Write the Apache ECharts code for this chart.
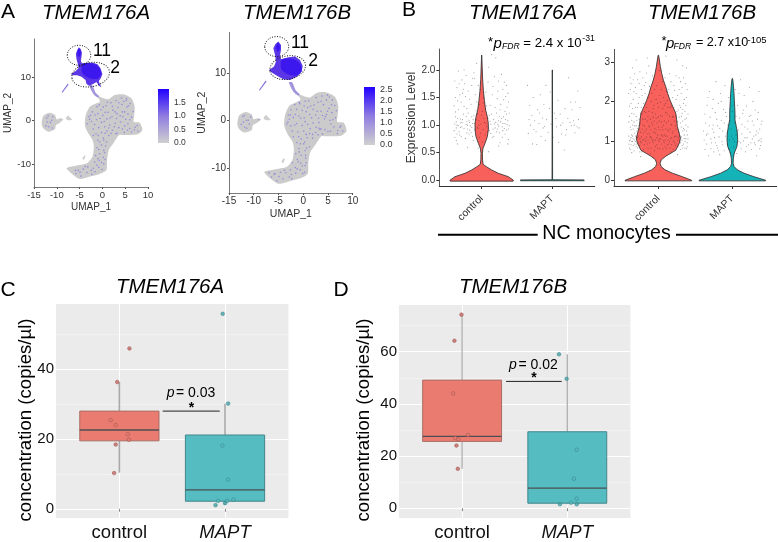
<!DOCTYPE html>
<html><head><meta charset="utf-8">
<style>html,body{margin:0;padding:0;background:#fff}#c{width:778px;height:542px}</style>
<script src="https://cdn.jsdelivr.net/npm/echarts@6/dist/echarts.min.js"></script>
</head><body><div id="c"></div>
<script>
const categories=['control','MAPT'];
// UMAP outlines, in UMAP units
const umapBody=[[-2.39,7.4],[-1.15,5.88],[-.57,5.5],[1.25,4.89],[2.71,5.88],[4.53,6.03],[6.36,5.11],[7.08,3.2],[6.94,.92],[6.87,-.23],[8.18,-.46],[8.76,-2.14],[7.81,-3.13],[6.36,-3.28],[4.53,-3.28],[3.66,-3.28],[2.49,-5.04],[1.4,-6.72],[1.03,-9],[.89,-11.3],[-.57,-12.2],[-2.76,-12.8],[-4.94,-13.36],[-6.4,-12.44],[-7.86,-10.9],[-6.76,-10.5],[-4.94,-10.15],[-3.34,-9.77],[-2.17,-8.24],[-1.88,-5.95],[-2.17,-4.43],[-3.12,-2.9],[-3.85,-1],[-3.63,1.3],[-2.76,3.2],[-1.3,3.97],[-.57,4.35],[-.72,4.9],[-1.66,6.03],[-2.6,7.18]];
const umapIsland=[[-13.32,-.76],[-12.96,1.07],[-11.65,1.83],[-10.4,1.3],[-10.04,.3],[-9.31,.53],[-8.59,.3],[-9.31,-.46],[-10.19,-1],[-10.4,-1.98],[-11.87,-2.52],[-12.96,-1.76]];
const umapBlob=[[-8,.5],[-7.5,1.2],[-7,.6],[-6.6,.2],[-7.5,.1]];
const umapSliver=[[-4.4,-8.6],[-3.9,-7.9],[-3.7,-8.2],[-4.1,-9.1]];
const umapClusterA=[[-5.16,16.79],[-4.72,16.34],[-4.5,15.57],[-4.58,14.66],[-4.72,13.74],[-4.5,13.13],[-3.34,13.28],[-2.03,13.28],[-1.08,12.9],[-.42,11.98],[0,10.69],[-.35,9.69],[-.79,9.08],[-.57,8.4],[-.2,7.63],[-.71,7.94],[-1.3,8.85],[-2.03,8.4],[-2.9,8.02],[-3.48,8.4],[-3.7,9.31],[-4.58,10.08],[-5.52,10.38],[-6.4,10.38],[-6.98,10.69],[-6.03,11.22],[-5.23,11.98],[-5.38,12.98],[-5.67,14.05],[-5.82,15.27],[-5.52,16.18]];
const umapClusterB=[[-5.03,16.74],[-4.49,16.03],[-4.49,14.97],[-4.69,13.91],[-4.49,12.99],[-3,13.42],[-1.66,13.56],[-.65,12.85],[-.11,11.58],[-.31,10.38],[-1.32,9.32],[-2.67,8.62],[-4.02,8.76],[-5.23,9.46],[-6.37,10.17],[-6.91,10.73],[-5.9,11.44],[-5.5,12.5],[-5.7,13.91],[-6.04,15.32],[-5.6,16.2]];
const umapCore=[[-5.1,16.5],[-4.7,15.5],[-5.1,14.6],[-5.5,15.5]];
const umapCore2=[[-4.3,12.9],[-1.9,13],[-.7,12.1],[-.3,10.6],[-1.1,9.6],[-2.8,9.7],[-4.4,10.9]];
const umapStreak=[[-8.95,6.5],[-7.6,8.5],[-7.4,8.3],[-8.75,6.4]];
const umapStem=[[-2.9,8.1],[-2.2,8.1],[-1.5,6.4],[-.7,5.6],[-1,5.3],[-1.9,6]];
const ellipsesA=[[-5.13,14.97,2.57,2.29,0],[-2.57,10.53,4.17,2.75,.2]];
const ellipsesB=[[-5.36,15.68,2.42,2.12,0],[-3.14,11.23,3.64,2.47,.2]];
const speckleA=[[-1.2,3.2],[-.3,2.5],[.8,3.4],[1.9,4.1],[3,4.6],[4.2,5.2],[5.2,4.6],[6.1,3.9],[5.4,3.1],[4.3,3.7],[3.4,3],[2.3,2.4],[1.2,1.9],[.1,1.2],[-1,1.6],[-2.2,2],[-3,.9],[-2.4,-.2],[-1.3,.2],[-.2,-.4],[1,.4],[2.1,.9],[3.2,1.6],[4.4,2],[5.6,1.5],[6.4,.8],[5.1,.3],[4,-.3],[2.8,-.6],[1.6,-1],[.5,-1.4],[-.8,-1.6],[-2,-1.9],[-1.4,-3],[-.2,-2.7],[1,-2.4],[2.2,-2.2],[3.6,-1.6],[4.9,-1.2],[6,-1.8],[7.2,-1.5],[7.8,-2.4],[6.4,-2.6],[4.8,-2.7],[3.2,-2.9],[1.4,-3.4],[.2,-4],[-1,-4.5],[.9,-4.9],[-.2,-5.6],[-1.2,-6.2],[.3,-6.8],[-.6,-7.6],[-1.5,-8],[.2,-8.4],[-.7,-9.1],[-1.7,-9.5],[.3,-9.9],[-.8,-10.7],[-2,-10.9],[-3.2,-10.6],[-4.2,-11.1],[-5.3,-11.4],[-3.4,-11.9],[-5.8,-12.1],[-4.7,-12.7],[-1.6,-11.7],[-12.2,.6],[-11.4,-.4],[-12.4,-1.2],[-10.9,.9],[-11,-1.7]];
const speckleB=[[-1.7,3.4],[-.8,3.9],[.4,4.1],[1.5,3.1],[2.6,4.9],[3.8,5.2],[4.9,5.4],[5.9,4.4],[6.4,3.2],[5.2,2.6],[4.1,3.4],[3,3.9],[2,2.4],[.9,2.8],[-.2,2.2],[-1.3,2.4],[-2.5,2.3],[-3,1.2],[-2,.7],[-.9,1],[.2,.6],[1.3,1.3],[2.5,1.2],[3.6,2],[4.7,1.3],[5.8,1.7],[6.5,.6],[5.4,.1],[4.3,.4],[3.2,-.4],[3.6,-1.7],[3.4,-1.9],[3.2,-1.6],[2,-.5],[.9,-.8],[-.2,-1],[-1.3,-.6],[-2.5,-1.1],[-3.1,-.3],[-2.2,-2.2],[-1.1,-2.4],[.1,-2.2],[1.3,-2.7],[2.5,-2.5],[3.9,-2.8],[5,-2.3],[6.2,-1.3],[7.4,-1.4],[8,-2.2],[6.9,-2.7],[1.9,-3.7],[.8,-3.6],[-.4,-3.9],[-1.3,-4.6],[.1,-4.9],[1.3,-5.5],[-.9,-5.9],[.4,-6.3],[-1.5,-7],[-.4,-7.3],[.5,-7.9],[-1.2,-8.2],[-2.2,-8.9],[-.5,-9],[.4,-9.5],[-1.6,-9.9],[-.6,-10.4],[.3,-10.9],[-1.5,-11.1],[-2.6,-10.4],[-3.5,-11],[-2.8,-11.9],[-4.6,-10.9],[-5.7,-11.2],[-4.1,-12.3],[-5.3,-12.7],[-6.4,-11.9],[-6.9,-11],[-12.2,.9],[-11.5,.1],[-12.5,-.8],[-10.9,-.7],[-11.4,-1.6],[-10.6,.8],[-8.9,.2]];
const speckleShared=[[-.7,3.6],[.2,3.1],[1.1,4.2],[2.2,3.3],[3.6,4.1],[4.7,4.4],[5.7,3.4],[4.9,2],[3.9,1.1],[2.8,2],[1.7,.6],[.6,1.9],[-.5,.5],[-1.7,-.9],[-2.8,.3],[-1.6,1.3],[.4,-.2],[1.4,-1.7],[2.6,-1.4],[3.1,.5],[4.5,.9],[6,.2],[5.6,-.7],[4.4,-1.9],[3,-3],[1.9,-2.9],[.6,-2.9],[-.9,-3.4],[.3,-4.5],[-.6,-4.9],[.7,-5.8],[-.8,-6.6],[.5,-7.3],[-1,-8.7],[.6,-8.9],[-.2,-9.6],[-1.2,-10.2],[-.1,-11.2],[-2.4,-11.4],[-3.8,-10.5],[-4.9,-11.8],[-5.9,-11.4],[-2.3,-12.3],[5.3,5],[6.7,2.1],[7.6,-1.1],[7,-2.1],[5.5,-2.2],[-11.9,1.1],[-12.1,-.3],[-11.1,.1],[-11.8,-1.4],[-2.6,1.2],[-3.3,-.7],[-2,-3.4]];
// Colour bars
const colorbarTopA=[2.0],colorbarTopB=[2.6];
const colorbarTicksA=[0,.5,1,1.5],colorbarTicksB=[0,.5,1,1.5,2,2.5];
// Violin profiles: [expression level, half width in category units]
const violinControlA=[[-.015,.445],[0,.45],[.066,.378],[.127,.236],[.187,.142],[.248,.066],[.29,.02],[.37,.012],[.49,.01],[.58,.019],[.67,.047],[.79,.08],[.91,.094],[1.03,.094],[1.15,.08],[1.27,.057],[1.45,.038],[1.63,.024],[1.82,.014],[2.06,.007],[2.27,.001]];
const violinMaptA=[[-.008,.45],[.008,.45],[.01,.004],[2,.002]];
const violinControlB=[[-.015,.45],[0,.45],[.09,.325],[.18,.19],[.265,.09],[.35,.036],[.43,.023],[.52,.04],[.61,.1],[.76,.235],[.95,.285],[1.07,.298],[1.2,.28],[1.36,.257],[1.53,.248],[1.7,.235],[1.87,.194],[2.03,.158],[2.2,.126],[2.37,.1],[2.54,.068],[2.71,.045],[2.88,.027],[3.05,.014],[3.17,.003]];
const violinMaptB=[[-.015,.45],[0,.45],[.09,.293],[.18,.158],[.265,.068],[.35,.023],[.43,.011],[.56,.014],[.69,.027],[.86,.063],[1.03,.072],[1.2,.068],[1.36,.054],[1.53,.036],[1.7,.036],[1.87,.032],[2.03,.027],[2.2,.023],[2.37,.016],[2.54,.007],[2.58,.002]];
// Jittered points
const dotsControlA=[[.62,1.02],[.64,.95],[.66,1.12],[.61,1.35],[.63,1.5],[.65,1.68],[.68,.88],[.7,1.04],[.72,.97],[.74,1.2],[.69,.82],[.71,1.42],[.73,1.58],[.76,1.75],[.78,1.01],[.8,.93],[.82,1.09],[.77,.76],[.79,1.3],[.81,1.62],[.84,.99],[.86,1.15],[.88,.72],[.83,1.47],[.85,.87],[.9,1.03],[.92,1.26],[.87,1.85],[.94,.96],[.91,1.55],[.96,1.08],[.98,.85],[1,1.18],[1.02,.92],[1.04,1.05],[.97,1.38],[1.01,.7],[1.05,1.28],[1.07,.98],[1.09,1.13],[1.06,1.6],[1.11,.9],[1.13,1.02],[1.15,.78],[1.12,1.36],[1.17,1.1],[1.19,.95],[1.21,1.22],[1.16,1.7],[1.23,1.01],[1.25,.86],[1.22,1.48],[1.27,1.06],[1.29,.97],[1.31,1.15],[1.26,.68],[1.33,1.03],[1.35,.91],[1.3,1.65],[1.37,1.08],[1.39,.99],[1.36,1.33],[1.38,.74],[1.34,1.52],[1.32,1.78],[1.28,1.92],[1.18,1.88],[.75,2],[.67,1.98],[.62,1.8],[.72,1.82],[1.2,2.22],[1.14,2.28],[1.1,2.05],[.93,2.12],[.89,1.95],[.64,1.06],[.67,.99],[.7,1.11],[.75,.94],[.79,1.07],[.83,.91],[.87,1.03],[.92,1.1],[.95,.94],[1.03,1.12],[1.08,.88],[1.12,1.07],[1.16,.93],[1.2,1.05],[1.24,.98],[1.28,1.12],[1.32,.94],[1.36,1.01],[.66,.66],[.8,.6],[.95,.58],[1.1,.52],[1.24,.62],[1.37,.66],[.63,1.24],[.86,1.72],[1.24,1.8],[1.33,1.25],
 [.61,.9],[.63,1.15],[.65,.84],[.67,1.28],[.69,1.55],[.71,.79],[.73,1.1],[.75,1.34],[.77,1.52],[.79,.86],[.81,1.22],[.83,1.05],[.85,1.38],[.87,.8],[.89,1.18],[.91,.92],[.93,1.42],[.95,1.72],[.97,.78],[.99,1.02],[1.01,1.25],[1.03,1.5],[1.05,.82],[1.07,1.35],[1.09,1.78],[1.11,1.18],[1.13,.85],[1.15,1.55],[1.17,.8],[1.19,1.32],[1.21,.88],[1.23,1.62],[1.25,1.16],[1.27,1.38],[1.29,.78],[1.31,1.46],[1.33,.84],[1.35,1.2],[1.37,1.58],[1.39,1.22],[.62,.78],[.66,1.44],[.7,.96],[.74,1.65],[.78,1.16],[.82,.84],[.86,.96],[.9,1.85],[.94,1.2],[.98,1.65],[1.02,1.4],[1.06,1.03],[1.1,.95],[1.14,1.2],[1.18,1.02],[1.22,.93],[1.26,1.28],[1.3,1.03],[1.34,1.1],[1.38,.93],[.65,1],[.72,1.05],[.8,1],[.88,1.1],[.96,1],[1.24,1.08],[1.3,.9],[.68,1.75],[.78,1.9],[1.35,1.72],[1.38,1.42],[.64,.72]];
const dotsMaptA=[[1.65,1.72],[1.68,1.36],[1.66,.85],[1.69,1],[1.71,1.18],[1.72,.66],[1.73,1.5],[1.75,1.08],[1.77,.88],[1.79,1.28],[1.78,.65],[1.81,1.03],[1.83,1.55],[1.84,.8],[1.86,1.13],[1.88,1.38],[1.87,.95],[1.9,.72],[1.92,1.1],[1.91,1.72],[1.94,.87],[1.96,1.3],[1.98,1.02],[2.01,.78],[2.03,1.22],[2.06,.97],[2.08,1.45],[2.09,.69],[2.11,1.2],[2.13,.84],[2.15,1.04],[2.18,1.3],[2.17,.55],[2.2,.92],[2.22,1.12],[2.23,1.86],[2.25,1.05],[2.27,.99],[2.28,1.28],[2.3,1.08],[2.32,.86],[2.33,1.42],[2.35,.97],[2.37,1.1],[2.39,1.32],[2.36,1.62],[1.67,1.1],[1.74,.92],[1.82,1.22],[1.89,.98],[1.97,1.6],[2.05,1.12],[2.12,1],[2.19,.82],[2.26,1.42],[2.31,1],[2.38,.95]];
const dotsControlB=[[.61,1],[.62,1.35],[.63,.9],[.64,1.7],[.65,1.12],[.6,2.2],[.66,2.05],[.62,2.6],[.64,.7],[.67,1.48],[.68,1.02],[.69,2.35],[.7,.85],[.71,1.25],[.72,1.85],[.73,.95],[.74,1.55],[.75,2.75],[.76,.6],[.77,1.1],[.78,2.15],[.79,1.4],[.8,.78],[.81,1.75],[.82,1.05],[.83,2.48],[.84,1.3],[.85,.92],[.86,1.62],[.87,2.9],[.88,1.18],[.89,.68],[.9,2],[.91,1.45],[.92,1],[.93,1.82],[.94,1.22],[.95,2.3],[.96,.86],[.97,1.58],[.98,1.08],[.99,1.95],[1,1.35],[1.01,.98],[1.02,2.15],[1.03,1.65],[1.04,1.15],[1.05,2.5],[1.06,.8],[1.07,1.4],[1.08,1.9],[1.09,1.02],[1.1,1.72],[1.11,2.25],[1.12,.9],[1.13,1.28],[1.14,1.5],[1.15,2.7],[1.16,1.05],[1.17,.72],[1.18,1.88],[1.19,1.2],[1.2,1.6],[1.21,2.4],[1.22,.95],[1.23,1.38],[1.24,2.05],[1.25,1.12],[1.26,.65],[1.27,1.78],[1.28,2.6],[1.29,1],[1.3,1.45],[1.31,2.2],[1.32,.88],[1.33,1.25],[1.34,1.95],[1.35,1.06],[1.36,1.55],[1.37,2.45],[1.38,.8],[1.39,1.15],[1.4,1.68],[1.38,2.1],[1.36,.98],[1.34,1.32],[1.32,1.7],[1.3,.95],[1.28,1.22],[1.26,1.02],[1.24,1.62],[1.22,1.1],[1.2,.98],[1.18,1.42],[1.16,1.3],[1.14,.92],[1.12,1.12],[1.1,1.3],[1.08,.95],[1.06,1.12],[1.04,1.48],[1.02,1.05],[1,1.6],[.98,.9],[.96,1.2],[.94,1.5],[.92,1.72],[.9,1.1],[.88,1.35],[.86,1.02],[.84,1.85],[.82,1.55],[.8,1.2],[.78,1.68],[.76,.98],[.74,1.3],[.72,1.08],[.7,1.62],[.68,.92],[.66,1.3],[.64,1.15],[.62,1.02],[.6,1.48],[.63,1.95],[.65,.98],[.67,2.25],[.69,1.12],[.71,.92],[.73,1.38],[.75,1.05],[.77,1.85],[.79,1.02],[.81,2.4],[.61,.82],[.65,2.85],[.7,3.05],[.85,3.1],[1.1,3.15],[1.25,3.05],[1.38,2.85],[1.33,2.9],[.74,2.45],[1.35,1.15],[1.39,.95],[1.37,1.4],[1.3,1.85],[1.27,1.08],[1.33,.82],[1.31,1.1],[.63,1.08],[.66,.88],[.68,1.2],[.72,.82],
 [.6,1.12],[.6,.92],[.61,1.62],[.61,1.88],[.62,2.3],[.62,.78],[.63,1.28],[.63,2.45],[.64,1.52],[.64,.98],[.65,1.82],[.65,1.4],[.66,2.55],[.66,1.05],[.67,.75],[.67,1.68],[.68,1.38],[.68,2.7],[.69,1.85],[.69,.98],[.7,1.38],[.7,2.2],[.71,1.08],[.71,1.52],[.72,2.55],[.72,1.32],[.73,1.12],[.73,1.95],[.74,.88],[.74,2.1],[.75,1.45],[.75,.72],[.76,1.22],[.76,1.7],[.77,2.3],[.77,.95],[.78,1.3],[.78,.72],[.79,2.6],[.79,1.55],[.8,1.02],[.8,1.95],[.81,1.38],[.81,.9],[.82,2.2],[.82,1.25],[.83,1.72],[.83,.98],[.84,1.1],[.84,2.72],[.85,1.5],[.85,1.18],[.86,2.1],[.86,.82],[.87,1.38],[.87,1.75],[.88,.95],[.88,2.38],[.89,1.55],[.89,1.1],[.9,1.28],[.9,.82],[.91,2.2],[.91,1.05],[.92,1.4],[.92,2.65],[.93,.95],[.93,1.6],[.94,1.02],[.94,1.9],[.95,1.32],[.95,.75],[.96,1.68],[.96,1.02],[.97,2.05],[.97,1.28],[.98,1.45],[.98,2.4],[.99,1.15],[.99,.82],[1,1.02],[1,1.85],[1.01,1.5],[1.01,2.78],[1.02,1.28],[1.02,.8],[1.03,1.05],[1.03,1.98],[1.04,.92],[1.04,2.3],[1.05,1.35],[1.05,1.62],[1.06,1.82],[1.06,1.28],[1.07,1],[1.07,2.1],[1.08,1.5],[1.08,1.15],[1.09,.85],[1.09,2.6],[1.1,1.12],[1.1,1.95],[1.11,1.45],[1.11,.8],[1.12,1.68],[1.12,2.02],[1.13,1.02],[1.13,1.85],[1.14,1.25],[1.14,2.3],[1.15,.98],[1.15,1.62],[1.16,1.85],[1.16,.82],[1.17,1.4],[1.17,2.5],[1.18,1.08],[1.18,.9],[1.19,1.62],[1.19,2.1],[1.2,1.25],[1.2,.78],[1.21,1.02],[1.21,1.85],[1.22,1.5],[1.22,2.28],[1.23,.88],[1.23,1.12],[1.24,1.3],[1.24,2.65],[1.25,.92],[1.25,1.75],[1.26,1.48],[1.26,2.15],[1.27,.85],[1.27,1.28],[1.28,1.6],[1.28,2.3],[1.29,1.12],[1.29,1.9],[1.3,.78],[1.3,2.5],[1.31,1.35],[1.31,1.62],[1.32,1.02],[1.32,2.35],[1.33,1.5],[1.33,1.8],[1.34,.92],[1.34,2.6],[1.35,1.28],[1.35,2.05],[1.36,.82],[1.36,1.75],[1.37,1.05],[1.37,1.9],[1.38,1.25],[1.38,1.58],[1.39,.85],[1.39,2.3],[1.4,1.05],[1.4,1.35]];
const dotsMaptB=[[1.62,1.02],[1.64,1.45],[1.63,.78],[1.66,1.9],[1.67,1.18],[1.68,.62],[1.69,2.25],[1.7,1.6],[1.72,.95],[1.73,1.3],[1.74,2.05],[1.75,.72],[1.76,1.08],[1.77,1.72],[1.78,2.5],[1.79,.88],[1.8,1.38],[1.81,1.95],[1.82,1.1],[1.83,.65],[1.84,2.2],[1.85,1.52],[1.86,.98],[1.87,1.25],[1.88,1.8],[1.89,.75],[1.9,2.4],[1.91,1.12],[1.92,1.62],[1.93,.92],[1.94,1.4],[1.95,2.1],[1.96,1.02],[1.97,.7],[1.98,1.3],[2,1.75],[2.01,1.05],[2.02,.85],[2.03,1.45],[2.04,2.3],[2.05,1.15],[2.06,.68],[2.07,1.9],[2.08,1.28],[2.09,.98],[2.1,1.58],[2.11,2.55],[2.12,.8],[2.13,1.18],[2.14,1.7],[2.15,1],[2.16,2.15],[2.17,1.35],[2.18,.72],[2.19,1.88],[2.2,1.08],[2.21,1.5],[2.22,.9],[2.23,2.35],[2.24,1.22],[2.25,1.65],[2.26,.78],[2.27,1.05],[2.28,2],[2.29,1.4],[2.3,.95],[2.31,1.78],[2.32,1.15],[2.33,.62],[2.34,1.55],[2.35,1],[2.36,2.25],[2.37,1.3],[2.38,.88],[2.39,1.05],[2.4,1.5],[2.39,.98],[2.37,1.02],[2.35,1.2],[1.65,1.15],[1.71,1.05],[1.74,1.4],[1.8,.82],
 [1.61,1.25],[1.63,1.68],[1.65,.92],[1.67,2.1],[1.69,1.38],[1.71,.8],[1.73,1.82],[1.75,1.22],[1.77,.95],[1.79,1.55],[1.81,.75],[1.83,1.32],[1.85,2],[1.87,.9],[1.89,1.45],[1.91,1.72],[1.93,1.2],[1.95,.8],[1.97,1.5],[1.99,1.12],[2.01,1.9],[2.03,.98],[2.05,1.62],[2.07,1.25],[2.09,2.2],[2.11,.95],[2.13,1.42],[2.15,1.78],[2.17,1.08],[2.19,.85],[2.21,1.3],[2.23,1.62],[2.25,.95],[2.27,1.5],[2.29,1.12],[2.31,.9],[2.33,1.25],[2.35,1.72],[2.37,.8],[2.39,1.42]];
// Box plots: [category position, whisker low, Q1, median, Q3, whisker high]
const boxControlC=[1,10.3,19.4,22.5,27.9,36.2];
const boxMaptC=[2,1.1,2.15,5.4,21.07,30];
const boxControlD=[1,15.1,25.6,27.5,49.1,74.2];
const boxMaptD=[2,1.5,1.9,7.66,29.3,59];
const pointsControlC=[[1.095,45.8],[.98,36.2],[.918,25.3],[.965,23.9],[1.08,21.3],[1.09,19.7],[.965,18.35],[.95,10.2]];
const pointsMaptC=[[1.978,55.7],[2.03,30.05],[1.975,18.07],[2.03,8.33],[2.08,2.6],[2.02,2.25],[1.934,2.25],[2,1.6],[1.91,1.03]];
const pointsControlD=[[.994,74.2],[.927,64.2],[.915,44],[1.057,28.1],[.934,26.9],[.962,26.4],[.946,24],[.959,15.1]];
const pointsMaptD=[[1.921,59],[1.994,49.6],[2.089,22.4],[2.063,11.3],[2.089,3.64],[2.035,2.1],[1.93,1.5],[2.09,1.5]];
const bracketC=[[1.41,27.9],[1.95,27.9]];
const bracketD=[[1.418,48.6],[1.947,48.6]];
const umapXTicks=[-15,-10,-5,0,5,10],umapYTicks=[-10,0,10];
const violinTicksA=[0,.5,1,1.5,2],violinTicksB=[0,1,2,3];
const boxTicksC=[0,20,40],boxMinorC=[10,30,50];
const boxTicksD=[0,20,40,60],boxMinorD=[10,30,50,70];

const FONT='"Liberation Sans"';
const DARK='#333333';
const RED='#F8605C',TEAL='#14B3B8';
const gridOf=(l,r,t,b,extra)=>Object.assign({left:l,top:t,width:r-l,height:b-t,containLabel:false,borderWidth:0,show:false},extra||{});
const grids=[
 gridOf(34,148,39,187),gridOf(229,352.7,32.3,193),
 gridOf(158,169,89,143),gridOf(364,375,87,145),
 gridOf(439.3,594.7,49,186),gridOf(614,776.7,49.3,186),
 gridOf(56,288.4,304,521.7,{show:true,backgroundColor:'#EBEBEB'}),
 gridOf(399,630.4,305,521.7,{show:true,backgroundColor:'#EBEBEB'})];
const off={show:false};
const umapX=(i,size,nsize,gap)=>({type:'value',gridIndex:i,min:-15,max:10,interval:5,splitLine:off,
 axisLine:{show:true,onZero:false,lineStyle:{color:'#7a7a7a',width:1}},axisTick:{show:true,length:2,lineStyle:{color:'#555'}},
 axisLabel:{fontFamily:FONT,fontSize:size,color:DARK,margin:3,showMinLabel:true,showMaxLabel:true},
 name:'UMAP_1',nameLocation:'middle',nameGap:gap,nameTextStyle:{fontFamily:FONT,fontSize:nsize,color:DARK}});
const umapY=(i,lo,hi,size,nsize,gap)=>({type:'value',gridIndex:i,min:lo,max:hi,splitLine:off,
 axisLine:{show:true,onZero:false,lineStyle:{color:'#7a7a7a',width:1}},axisTick:{show:true,length:2,customValues:umapYTicks,lineStyle:{color:'#555'}},
 axisLabel:{fontFamily:FONT,fontSize:size,color:DARK,margin:3,customValues:umapYTicks},
 name:'UMAP_2',nameLocation:'middle',nameGap:gap,nameTextStyle:{fontFamily:FONT,fontSize:nsize,color:DARK}});
const barX=i=>({type:'category',gridIndex:i,data:[''],show:false});
const barY=(i,top,ticks,size)=>({type:'value',gridIndex:i,min:0,max:top,position:'right',splitLine:off,axisLine:off,
 axisTick:{show:false,customValues:ticks},axisLabel:{fontFamily:FONT,fontSize:size,color:DARK,margin:5,customValues:ticks,formatter:v=>v.toFixed(1)}});
const catLabel=v=>categories[Math.round(v)-1];
const violinX=i=>({type:'value',gridIndex:i,min:.4,max:2.6,splitLine:off,
 axisLine:{show:true,onZero:false,lineStyle:{color:'#333',width:1}},axisTick:{show:true,length:3,customValues:[1,2],lineStyle:{color:'#333'}},
 axisLabel:{fontFamily:FONT,fontSize:10.5,color:DARK,margin:11,rotate:45,customValues:[1,2],formatter:catLabel}});
const violinY=(i,lo,hi,ticks,fmt,extra)=>Object.assign({type:'value',gridIndex:i,min:lo,max:hi,splitLine:off,
 axisLine:{show:true,onZero:false,lineStyle:{color:'#555',width:1}},axisTick:{show:true,length:3,customValues:ticks,lineStyle:{color:'#333'}},
 axisLabel:{fontFamily:FONT,fontSize:10,color:DARK,margin:4,customValues:ticks,formatter:fmt}},extra||{});
const boxX=i=>({type:'value',gridIndex:i,min:.4,max:2.6,
 splitLine:{show:true,lineStyle:{color:'#FFFFFF',width:1}},axisLine:off,
 axisTick:{show:true,length:3,customValues:[1,2],lineStyle:{color:'#888'}},
 axisLabel:{fontFamily:FONT,fontSize:18.5,color:'#111',margin:5,customValues:[1,2],
  formatter:v=>v==1?categories[0]:'{i|'+categories[1]+'}',rich:{i:{fontFamily:FONT,fontSize:18.5,fontStyle:'italic',color:'#111'}}}});
const boxY=(i,lo,hi,ticks)=>({type:'value',gridIndex:i,min:lo,max:hi,
 splitLine:{show:true,lineStyle:{color:'#FFFFFF',width:1}},axisLine:off,
 axisTick:{show:false,customValues:ticks},axisLabel:{fontFamily:FONT,fontSize:15,color:'#111',margin:2,customValues:ticks}});
const minorY=(i,lo,hi,ticks)=>({type:'value',gridIndex:i,min:lo,max:hi,position:'left',
 splitLine:{show:true,lineStyle:{color:'#F6F6F6',width:.6}},axisLine:off,
 axisTick:{show:false,customValues:ticks},axisLabel:{show:false,customValues:ticks}});

const xAxes=[umapX(0,9.5,10,15),umapX(1,10,10.5,16),barX(2),barX(3),violinX(4),violinX(5),boxX(6),boxX(7)];
const yAxes=[umapY(0,-15.2,18.7,9.5,10,17),umapY(1,-15.3,18.7,10,10.5,21),
 barY(2,colorbarTopA[0],colorbarTicksA,8.5),barY(3,colorbarTopB[0],colorbarTicksB,9),
 violinY(4,-.103,2.38,violinTicksA,v=>v.toFixed(1),{name:'Expression Level',nameLocation:'middle',nameGap:20,nameTextStyle:{fontFamily:FONT,fontSize:12,color:DARK}}),
 violinY(5,-.145,3.32,violinTicksB,v=>String(v)),
 boxY(6,-2.64,58.5,boxTicksC),boxY(7,-3.77,77.9,boxTicksD),
 minorY(6,-2.64,58.5,boxMinorC),minorY(7,-3.77,77.9,boxMinorD)];

const polygon=(i,ring,fill,opts)=>{opts=opts||{};return {type:'custom',xAxisIndex:i,yAxisIndex:i,silent:true,z:opts.z||2,data:[ring[0]],
 renderItem:(p,api)=>({type:'polygon',shape:{points:ring.map(q=>api.coord(q)),smooth:opts.smooth||0},
  style:{fill:fill,stroke:opts.stroke||null,lineWidth:opts.lw||0,opacity:opts.opacity==null?1:opts.opacity}})};};
const umapLayers=(i,ells,speck,cluster,main)=>[
 polygon(i,umapBody,'#CBCBCB',{smooth:.25,z:2}),polygon(i,umapIsland,'#CBCBCB',{smooth:.25,z:2}),
 polygon(i,umapBlob,'#CFCFCF',{smooth:.3,z:2}),polygon(i,umapSliver,'#CFCFCF',{z:2}),
 polygon(i,umapStem,'#A395DC',{smooth:.2,z:3}),polygon(i,umapStreak,'#8A78DD',{z:3}),
 polygon(i,cluster,main,{z:3}),polygon(i,umapCore,'#3A14F2',{smooth:.3,z:4}),polygon(i,umapCore2,'#3C18EE',{smooth:.3,z:4}),
 {type:'scatter',xAxisIndex:i,yAxisIndex:i,symbolSize:1.6,z:5,silent:true,data:speck.concat(speckleShared),itemStyle:{color:'#8F78DE',opacity:.8}},
 {type:'custom',xAxisIndex:i,yAxisIndex:i,z:6,silent:true,data:ells,
  renderItem:(p,api)=>{const c=api.coord([api.value(0),api.value(1)]),s=api.size([api.value(2),api.value(3)]);
   return {type:'ellipse',x:c[0],y:c[1],rotation:api.value(4),shape:{cx:0,cy:0,rx:s[0],ry:s[1]},style:{fill:null,stroke:'#111',lineWidth:1,lineDash:[1,1.5]}};}}
];
const colorBar=(i,top)=>({type:'bar',xAxisIndex:i,yAxisIndex:i,barWidth:'100%',silent:true,data:top,
 itemStyle:{color:new echarts.graphic.LinearGradient(0,0,0,1,[{offset:0,color:'#2200FF'},{offset:.5,color:'#8F7CE0'},{offset:1,color:'#D0D0D0'}])}});
const violin=(i,center,prof,fill)=>{const ring=prof.map(q=>[center-q[1],q[0]]).concat(prof.slice().reverse().map(q=>[center+q[1],q[0]]));
 return polygon(i,ring,fill,{stroke:'#2a2a2a',lw:.8,z:3,smooth:0});};
const dots=(i,data)=>({type:'scatter',xAxisIndex:i,yAxisIndex:i,symbolSize:1.1,z:4,silent:true,data:data,itemStyle:{color:'#1c1c1c',opacity:.45}});
const box=(i,row,fill,edge,whisk,wl)=>({type:'custom',xAxisIndex:i,yAxisIndex:i,z:3,silent:true,data:[row],
 renderItem:(p,api)=>{const x=api.value(0),lo=api.value(1),q1=api.value(2),m=api.value(3),q3=api.value(4),hi=api.value(5),h=.375;
  const a=api.coord([x-h,q3]),b=api.coord([x+h,q1]),ma=api.coord([x-h,m]),mb=api.coord([x+h,m]);
  const w1=api.coord([x,hi]),w2=api.coord([x,q3]),w3=api.coord([x,q1]),w4=api.coord([x,lo]);
  return {type:'group',children:[
   {type:'line',shape:{x1:w1[0],y1:w1[1],x2:w2[0],y2:w2[1]},style:{stroke:whisk,lineWidth:wl}},
   {type:'line',shape:{x1:w3[0],y1:w3[1],x2:w4[0],y2:w4[1]},style:{stroke:whisk,lineWidth:wl}},
   {type:'rect',shape:{x:a[0],y:a[1],width:b[0]-a[0],height:b[1]-a[1]},style:{fill:fill,stroke:edge,lineWidth:1}},
   {type:'line',shape:{x1:ma[0],y1:ma[1],x2:mb[0],y2:mb[1]},style:{stroke:'#4b4f50',lineWidth:1.3}}]};}});
// Points inside the box show the box colour through, points outside are solid.
const pts=(i,data,row,inner,solid,edge)=>({type:'scatter',xAxisIndex:i,yAxisIndex:i,symbolSize:3.6,z:5,silent:true,data:data,
 itemStyle:{color:p=>(p.value[1]>row[2]&&p.value[1]<row[4])?inner:solid,borderColor:edge,borderWidth:.7}});
const bracket=(i,data)=>({type:'line',xAxisIndex:i,yAxisIndex:i,z:6,silent:true,showSymbol:false,data:data,lineStyle:{color:'#222',width:1}});

const series=[].concat(
 umapLayers(0,ellipsesA,speckleA,umapClusterA,'#5A36E6'),umapLayers(1,ellipsesB,speckleB,umapClusterB,'#5A36E6'),
 [colorBar(2,colorbarTopA),colorBar(3,colorbarTopB),
 violin(4,1,violinControlA,RED),violin(4,2,violinMaptA,TEAL),dots(4,dotsControlA),dots(4,dotsMaptA),
 violin(5,1,violinControlB,RED),violin(5,2,violinMaptB,TEAL),dots(5,dotsControlB),dots(5,dotsMaptB),
 box(6,boxControlC,'#EA7B70','#A96E66','#A9A9A9',1.6),box(6,boxMaptC,'#55BCC2','#43858A','#A9A9A9',1.6),
 pts(6,pointsControlC,boxControlC,'#EA7B70','#C8645E','#9C5852'),pts(6,pointsMaptC,boxMaptC,'#55BCC2','#45A5AA','#37858A'),bracket(6,bracketC),
 box(7,boxControlD,'#EA7B70','#A96E66','#A9A9A9',1.2),box(7,boxMaptD,'#55BCC2','#43858A','#A9A9A9',1.2),
 pts(7,pointsControlD,boxControlD,'#EA7B70','#C8645E','#9C5852'),pts(7,pointsMaptD,boxMaptD,'#55BCC2','#45A5AA','#37858A'),bracket(7,bracketD)]);

const T=(text,x,y,size,o)=>{o=o||{};return {type:'text',x:x,y:y,rotation:o.rot||0,silent:true,z:50,style:{text:text,fontFamily:FONT,fontSize:size,fontStyle:o.it?'italic':'normal',fontWeight:o.bold?'bold':'normal',fill:o.fill||'#000',align:o.align||'center',verticalAlign:'middle'}};};
const texts=[
 T('A',8,12,21),T('B',409,10,21),T('C',8,290,21),T('D',341,290,21),
 T('TMEM176A',96,13,20.5,{it:1}),T('TMEM176B',297,13,20.5,{it:1}),
 T('TMEM176A',523,13,20.5,{it:1}),T('TMEM176B',702,13,20.5,{it:1}),
 T('TMEM176A',170,287,20.5,{it:1}),T('TMEM176B',513,287,20.5,{it:1}),
 T('11',102,51,17.5),T('2',115,68,17.5),T('11',300,43,17.5),T('2',313,61,17.5),
 T('*',488,42,13,{align:'left'}),T('p',493.5,44,15,{it:1,align:'left'}),T('FDR',502,47,8.6,{it:1,align:'left'}),
 T('= 2.4 x 10',523.3,43,13.2,{align:'left'}),T('-31',582.3,39,8.7,{align:'left'}),
 T('*',661.5,41,13,{align:'left'}),T('p',666,44,15,{it:1,align:'left'}),T('FDR',673.5,47,8.6,{it:1,align:'left'}),
 T('= 2.7 x10',696,43,12.6,{align:'left'}),T('-105',747.5,40,9.5,{align:'left'}),
 T('NC monocytes',606.5,234,19.6),
 {type:'rect',silent:true,z:50,shape:{x:438,y:233.7,width:99.7,height:2},style:{fill:'#000'}},
 {type:'rect',silent:true,z:50,shape:{x:676,y:233.7,width:102,height:2},style:{fill:'#000'}},
 T('concentration (copies/µl)',26,420,18.6,{rot:Math.PI/2}),T('concentration (copies/µl)',364,420,18.6,{rot:Math.PI/2}),
 T('p',166.7,393,14,{it:1,align:'left'}),T('= 0.03',176,393,14,{align:'left'}),T('*',191.5,408,14,{bold:1}),
 T('p',509,365,14,{it:1,align:'left'}),T('= 0.02',518.5,365,14,{align:'left'}),T('*',534,378,14,{bold:1})
];
const chart=echarts.init(document.getElementById('c'),null,{renderer:'canvas'});
chart.setOption({animation:false,backgroundColor:'#fff',grid:grids,xAxis:xAxes,yAxis:yAxes,series:series,graphic:{elements:texts},tooltip:{show:false},legend:{show:false}});
</script></body></html>
